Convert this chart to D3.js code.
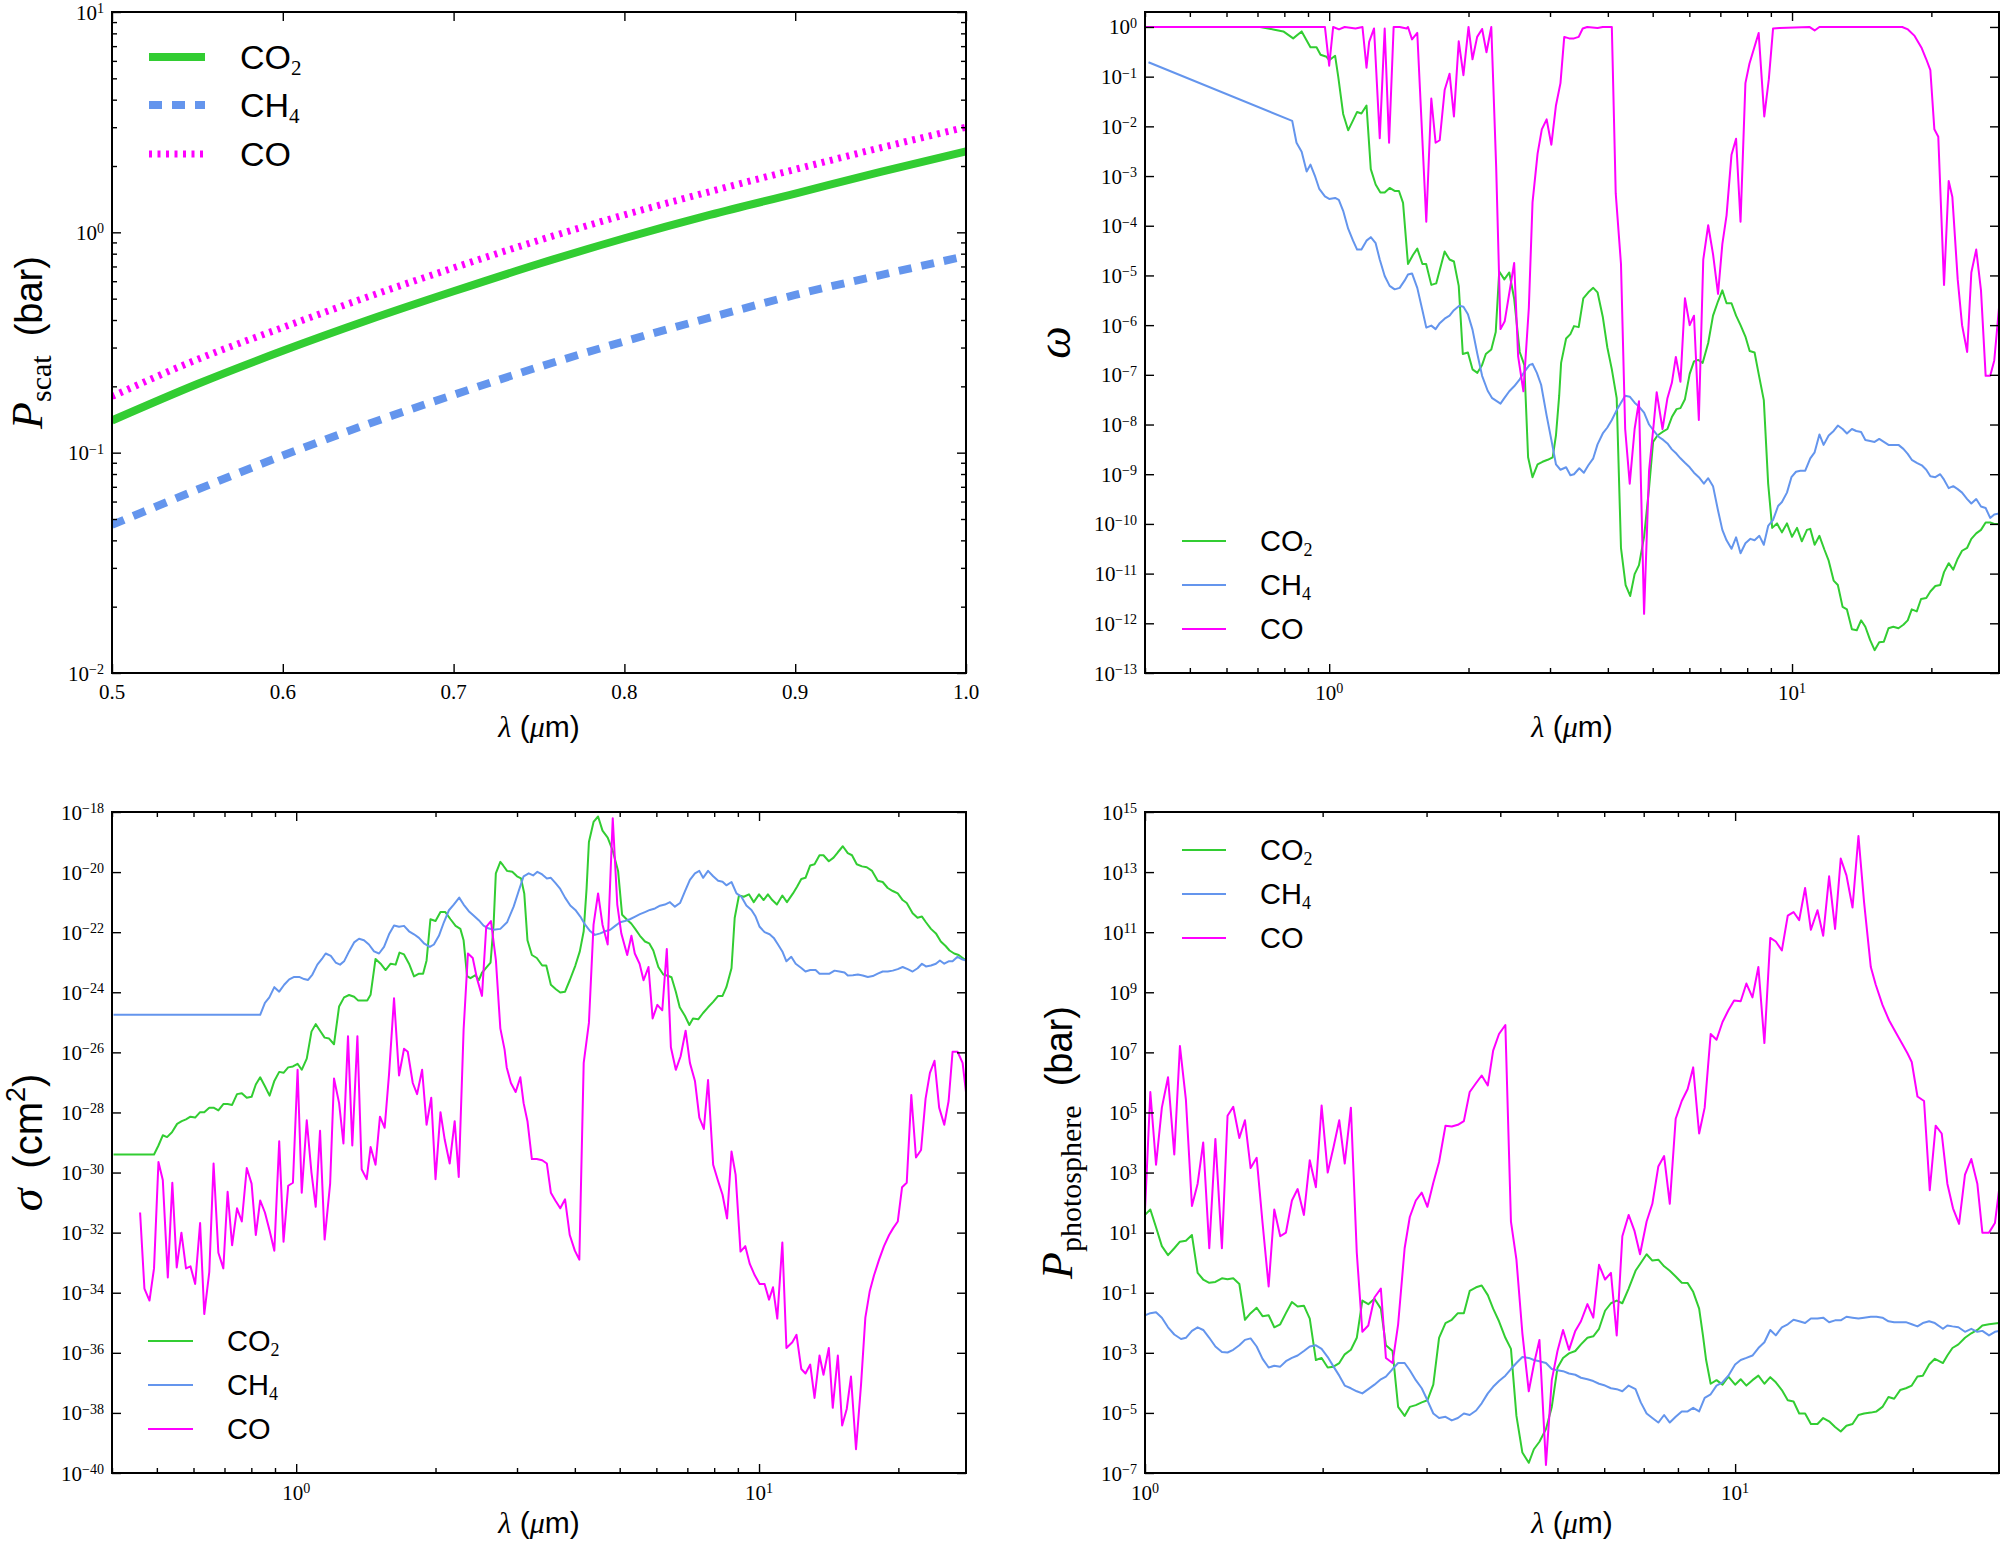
<!DOCTYPE html>
<html>
<head>
<meta charset="utf-8">
<script src="https://cdn.jsdelivr.net/npm/d3@7"></script>
<style>
  body { margin: 0; background: #fff; }
</style>
</head>
<body>
<div id="chart"></div>
<script>
// ---- data ----
// panel 1: P_scat (bar) vs wavelength (µm)
const pscatWl  = [0.5, 0.55, 0.6, 0.65, 0.7, 0.75, 0.8, 0.85, 0.9, 0.95, 1.0];
const pscatCO2 = [0.14, 0.205, 0.29, 0.40, 0.54, 0.72, 0.94, 1.20, 1.50, 1.88, 2.33];
const pscatCH4 = [0.047, 0.068, 0.097, 0.135, 0.183, 0.245, 0.32, 0.41, 0.52, 0.64, 0.78];
const pscatCO  = [0.18, 0.265, 0.37, 0.51, 0.69, 0.92, 1.2, 1.53, 1.93, 2.42, 3.0];

// panel 2: single scattering albedo, pairs of [λ µm, log10 ω]
const omegaCO2 = [[0.40,0],[0.709,0],[0.757,-0.05],[0.796,-0.09],[0.836,-0.23],[0.872,-0.09],[0.911,-0.41],[0.939,-0.41],[0.958,-0.56],[0.987,-0.6],[1.0,-0.67],[1.03,-0.58],[1.046,-1.0],[1.072,-1.75],[1.099,-2.08],[1.126,-1.88],[1.149,-1.71],[1.174,-1.74],[1.204,-1.58],[1.23,-2.86],[1.26,-3.17],[1.29,-3.33],[1.318,-3.33],[1.351,-3.24],[1.385,-3.3],[1.415,-3.3],[1.444,-3.54],[1.48,-4.77],[1.517,-4.59],[1.55,-4.46],[1.59,-4.77],[1.62,-4.77],[1.662,-5.19],[1.703,-5.16],[1.776,-4.52],[1.82,-4.68],[1.86,-4.72],[1.905,-5.21],[1.944,-6.58],[1.994,-6.55],[2.04,-6.89],[2.09,-6.96],[2.14,-6.8],[2.18,-6.58],[2.24,-6.49],[2.29,-6.14],[2.33,-4.92],[2.39,-5.08],[2.45,-4.94],[2.51,-5.47],[2.58,-6.54],[2.64,-6.8],[2.69,-8.66],[2.75,-9.06],[2.82,-8.8],[2.89,-8.75],[2.965,-8.71],[3.04,-8.66],[3.09,-8.22],[3.14,-7.42],[3.17,-6.76],[3.25,-6.27],[3.32,-6.18],[3.38,-6.02],[3.46,-6.04],[3.54,-5.46],[3.63,-5.34],[3.72,-5.25],[3.80,-5.34],[3.90,-5.83],[3.99,-6.45],[4.08,-6.89],[4.18,-7.47],[4.27,-10.48],[4.37,-11.23],[4.47,-11.45],[4.57,-11.01],[4.67,-10.83],[4.79,-10.26],[4.91,-9.28],[5.01,-8.35],[5.12,-8.22],[5.25,-8.15],[5.38,-8.09],[5.50,-7.85],[5.63,-7.69],[5.74,-7.67],[5.87,-7.49],[6.01,-6.98],[6.14,-6.73],[6.27,-6.70],[6.41,-6.76],[6.59,-6.36],[6.75,-5.81],[6.92,-5.52],[7.07,-5.3],[7.22,-5.56],[7.40,-5.56],[7.57,-5.81],[7.74,-6.0],[7.93,-6.23],[8.1,-6.52],[8.3,-6.55],[8.47,-6.98],[8.69,-7.51],[8.88,-9.19],[9.06,-10.08],[9.28,-9.99],[9.51,-10.17],[9.75,-9.99],[10.0,-10.26],[10.25,-10.08],[10.5,-10.35],[10.77,-10.12],[10.95,-10.1],[11.19,-10.42],[11.46,-10.24],[11.75,-10.52],[12.0,-10.74],[12.3,-11.14],[12.56,-11.23],[12.86,-11.67],[13.14,-11.72],[13.47,-12.12],[13.8,-12.14],[14.1,-11.94],[14.4,-12.07],[14.75,-12.34],[15.08,-12.54],[15.43,-12.38],[15.79,-12.37],[16.16,-12.1],[16.55,-12.07],[16.98,-12.1],[17.4,-12.03],[17.78,-11.94],[18.14,-11.72],[18.6,-11.76],[19.0,-11.51],[19.5,-11.49],[19.9,-11.36],[20.4,-11.25],[20.9,-11.23],[21.3,-10.97],[21.8,-10.79],[22.3,-10.92],[22.8,-10.7],[23.3,-10.54],[23.9,-10.48],[24.4,-10.3],[25.0,-10.19],[25.6,-10.12],[26.2,-9.97],[26.8,-9.97],[27.35,-10.0],[28,-10.0]];
const omegaCH4 = [[0.407,-0.71],[0.832,-1.89],[0.85,-2.33],[0.872,-2.51],[0.894,-2.91],[0.911,-2.77],[0.931,-2.99],[0.952,-3.26],[0.979,-3.41],[1.0,-3.46],[1.03,-3.44],[1.049,-3.48],[1.072,-3.70],[1.099,-4.06],[1.126,-4.30],[1.149,-4.48],[1.174,-4.48],[1.204,-4.30],[1.23,-4.23],[1.26,-4.35],[1.286,-4.68],[1.318,-5.01],[1.351,-5.21],[1.385,-5.28],[1.42,-5.25],[1.456,-5.1],[1.48,-4.98],[1.51,-4.96],[1.55,-5.25],[1.59,-5.70],[1.621,-6.05],[1.662,-6.01],[1.698,-6.08],[1.733,-5.96],[1.776,-5.87],[1.82,-5.81],[1.86,-5.70],[1.91,-5.61],[1.95,-5.63],[1.994,-5.78],[2.04,-6.09],[2.09,-6.58],[2.14,-7.02],[2.2,-7.32],[2.25,-7.47],[2.345,-7.58],[2.39,-7.47],[2.45,-7.33],[2.51,-7.23],[2.58,-7.09],[2.64,-6.94],[2.71,-6.8],[2.75,-6.78],[2.81,-6.96],[2.87,-7.2],[2.95,-7.82],[3.02,-8.31],[3.09,-8.8],[3.16,-8.91],[3.25,-8.86],[3.32,-9.02],[3.38,-9.0],[3.47,-8.88],[3.55,-8.97],[3.63,-8.82],[3.72,-8.68],[3.80,-8.4],[3.9,-8.18],[3.99,-8.06],[4.08,-7.91],[4.18,-7.71],[4.27,-7.56],[4.36,-7.42],[4.46,-7.44],[4.57,-7.56],[4.67,-7.64],[4.79,-7.76],[4.91,-8.0],[5.03,-8.13],[5.14,-8.24],[5.27,-8.31],[5.38,-8.38],[5.50,-8.5],[5.63,-8.59],[5.74,-8.68],[5.87,-8.77],[6.01,-8.86],[6.14,-8.97],[6.29,-9.06],[6.45,-9.19],[6.59,-9.08],[6.75,-9.24],[6.92,-9.73],[7.07,-10.12],[7.22,-10.33],[7.4,-10.5],[7.57,-10.27],[7.74,-10.59],[7.93,-10.39],[8.13,-10.3],[8.3,-10.33],[8.5,-10.24],[8.69,-10.42],[8.88,-10.04],[9.1,-9.92],[9.33,-9.64],[9.51,-9.56],[9.75,-9.37],[9.97,-9.06],[10.2,-8.95],[10.42,-8.93],[10.68,-8.93],[10.95,-8.68],[11.19,-8.56],[11.46,-8.2],[11.7,-8.41],[12.0,-8.22],[12.3,-8.13],[12.56,-8.02],[12.86,-8.09],[13.14,-8.18],[13.47,-8.09],[13.76,-8.13],[14.1,-8.15],[14.4,-8.31],[14.75,-8.33],[15.08,-8.35],[15.43,-8.29],[15.79,-8.35],[16.16,-8.41],[16.98,-8.41],[17.4,-8.49],[17.78,-8.59],[18.14,-8.71],[18.6,-8.77],[19.07,-8.82],[19.5,-8.91],[19.9,-9.04],[20.4,-9.06],[20.9,-9.0],[21.3,-9.11],[21.8,-9.28],[22.3,-9.24],[22.8,-9.3],[23.3,-9.37],[23.9,-9.5],[24.4,-9.59],[25.0,-9.5],[25.6,-9.65],[26.2,-9.68],[26.8,-9.88],[27.35,-9.81],[28,-9.79]];
const omegaCO = [[0.40,0],[0.979,0],[1.0,-0.78],[1.02,0],[1.05,-0.05],[1.08,0],[1.14,-0.03],[1.18,0],[1.204,-0.82],[1.22,-0.3],[1.25,-0.03],[1.286,-2.24],[1.318,-0.03],[1.347,-2.33],[1.378,0],[1.42,0],[1.47,-0.03],[1.48,0],[1.51,-0.25],[1.55,-0.12],[1.621,-3.92],[1.662,-1.44],[1.698,-2.33],[1.733,-2.28],[1.776,-1.27],[1.82,-0.94],[1.86,-1.8],[1.905,-0.29],[1.95,-0.97],[2.0,0],[2.04,-0.65],[2.088,-0.2],[2.14,-0.04],[2.187,-0.51],[2.24,0],[2.295,-2.82],[2.345,-6.08],[2.395,-5.92],[2.51,-4.75],[2.56,-6.63],[2.628,-7.33],[2.7,-5.65],[2.75,-3.53],[2.82,-2.55],[2.88,-2.06],[2.95,-1.86],[3.02,-2.37],[3.09,-1.58],[3.16,-1.13],[3.22,-0.2],[3.30,-0.23],[3.38,-0.23],[3.46,-0.2],[3.53,-0.03],[3.61,0],[3.80,-0.02],[3.90,0],[4.08,0],[4.16,-3.35],[4.27,-4.77],[4.36,-8.09],[4.46,-9.19],[4.57,-8.09],[4.67,-7.53],[4.79,-11.81],[4.91,-8.93],[5.03,-7.95],[5.10,-7.35],[5.25,-8.09],[5.38,-7.47],[5.50,-7.16],[5.61,-6.64],[5.74,-7.14],[5.87,-5.46],[6.01,-6.0],[6.14,-5.81],[6.29,-7.91],[6.43,-4.68],[6.59,-3.99],[6.75,-4.57],[6.92,-5.37],[7.07,-4.37],[7.22,-3.79],[7.40,-2.57],[7.57,-2.25],[7.74,-3.92],[7.93,-1.13],[8.09,-0.74],[8.47,-0.12],[8.71,-1.8],[8.91,-1.05],[9.10,-0.03],[9.4,-0.02],[10.9,0],[11.19,-0.07],[11.46,0],[17.3,0],[17.8,-0.05],[18.4,-0.18],[19.07,-0.43],[19.5,-0.65],[19.9,-0.87],[20.3,-2.06],[20.7,-2.21],[21.3,-5.19],[21.8,-3.1],[22.2,-3.42],[22.8,-5.08],[23.3,-6.0],[23.9,-6.54],[24.4,-4.94],[25.0,-4.48],[25.6,-5.3],[26.2,-7.02],[26.8,-7.02],[27.35,-6.71],[28,-5.65]];

// panel 3: cross-section, pairs of [λ µm, log10 σ (cm²)]
const sigmaCO2 = [[0.403,-29.40],[0.493,-29.40],[0.504,-29.10],[0.515,-28.76],[0.526,-28.82],[0.539,-28.66],[0.553,-28.38],[0.566,-28.29],[0.578,-28.23],[0.591,-28.14],[0.605,-28.17],[0.620,-27.99],[0.633,-27.99],[0.649,-27.84],[0.663,-27.84],[0.679,-27.93],[0.696,-27.72],[0.711,-27.72],[0.727,-27.75],[0.745,-27.39],[0.763,-27.36],[0.782,-27.51],[0.801,-27.48],[0.818,-27.07],[0.836,-26.83],[0.856,-27.13],[0.876,-27.44],[0.897,-26.95],[0.919,-26.65],[0.939,-26.68],[0.961,-26.5],[0.984,-26.47],[1.007,-26.38],[1.028,-26.58],[1.054,-26.21],[1.079,-25.31],[1.102,-25.06],[1.126,-25.28],[1.152,-25.51],[1.178,-25.54],[1.207,-25.73],[1.238,-24.47],[1.269,-24.17],[1.301,-24.09],[1.334,-24.15],[1.36,-24.27],[1.389,-24.27],[1.424,-24.27],[1.448,-24.08],[1.484,-22.89],[1.522,-23.05],[1.56,-23.26],[1.6,-23.05],[1.64,-23.08],[1.672,-22.68],[1.71,-22.74],[1.753,-23.05],[1.797,-23.47],[1.842,-23.38],[1.88,-23.38],[1.913,-22.94],[1.95,-21.57],[2.0,-21.63],[2.05,-21.33],[2.1,-21.33],[2.155,-21.57],[2.21,-21.79],[2.263,-21.89],[2.3,-22.27],[2.34,-23.46],[2.38,-23.53],[2.44,-23.43],[2.48,-23.6],[2.52,-23.35],[2.58,-23.16],[2.63,-23.01],[2.67,-21.75],[2.70,-20.04],[2.761,-19.66],[2.80,-19.78],[2.855,-19.96],[2.93,-19.99],[3.0,-20.14],[3.06,-20.21],[3.11,-20.71],[3.16,-22.27],[3.23,-22.76],[3.31,-22.86],[3.40,-23.11],[3.47,-23.11],[3.55,-23.75],[3.64,-23.9],[3.72,-24.01],[3.81,-23.98],[3.9,-23.6],[4.01,-23.11],[4.1,-22.64],[4.18,-21.97],[4.24,-20.56],[4.29,-19.0],[4.39,-18.33],[4.49,-18.15],[4.59,-18.62],[4.71,-18.85],[4.83,-19.29],[4.96,-19.96],[5.06,-21.42],[5.20,-21.60],[5.30,-21.72],[5.40,-21.89],[5.53,-22.12],[5.67,-22.31],[5.79,-22.37],[5.91,-22.61],[6.06,-23.16],[6.21,-23.41],[6.37,-23.46],[6.47,-23.5],[6.61,-23.98],[6.74,-24.5],[6.92,-24.79],[7.07,-25.09],[7.20,-24.87],[7.39,-24.9],[7.57,-24.69],[7.76,-24.5],[7.96,-24.32],[8.16,-24.12],[8.34,-24.12],[8.50,-23.83],[8.72,-23.2],[8.86,-21.52],[9.05,-20.78],[9.27,-20.82],[9.51,-20.74],[9.74,-21.0],[10.0,-20.74],[10.23,-20.93],[10.45,-20.74],[10.68,-20.93],[10.93,-21.08],[11.23,-20.78],[11.49,-21.0],[11.84,-20.71],[12.09,-20.48],[12.34,-20.23],[12.6,-20.19],[12.9,-19.78],[13.18,-19.74],[13.51,-19.44],[13.78,-19.44],[14.15,-19.64],[14.49,-19.52],[14.8,-19.34],[15.17,-19.14],[15.55,-19.37],[15.88,-19.44],[16.26,-19.74],[16.69,-19.81],[17.09,-19.84],[17.55,-19.96],[18.05,-20.29],[18.5,-20.33],[18.97,-20.53],[19.45,-20.63],[19.94,-20.71],[20.43,-20.93],[20.85,-21.03],[21.47,-21.37],[22.0,-21.52],[22.49,-21.48],[22.94,-21.67],[23.52,-21.89],[24.11,-22.04],[24.7,-22.31],[25.3,-22.46],[25.8,-22.61],[26.4,-22.71],[27.0,-22.76],[28,-22.94]];
const sigmaCH4 = [[0.403,-24.75],[0.836,-24.75],[0.856,-24.35],[0.875,-24.17],[0.897,-23.83],[0.919,-23.98],[0.942,-23.75],[0.966,-23.57],[0.99,-23.49],[1.015,-23.49],[1.04,-23.56],[1.061,-23.59],[1.084,-23.41],[1.111,-23.08],[1.14,-22.86],[1.158,-22.71],[1.188,-22.79],[1.217,-23.01],[1.244,-23.08],[1.269,-22.97],[1.301,-22.64],[1.334,-22.34],[1.367,-22.22],[1.401,-22.27],[1.436,-22.41],[1.473,-22.64],[1.51,-22.71],[1.548,-22.49],[1.587,-22.07],[1.627,-21.78],[1.668,-21.82],[1.71,-21.79],[1.753,-21.97],[1.797,-22.07],[1.842,-22.19],[1.888,-22.37],[1.944,-22.49],[1.984,-22.41],[2.034,-22.12],[2.085,-21.67],[2.138,-21.27],[2.19,-21.08],[2.25,-20.85],[2.3,-21.08],[2.36,-21.3],[2.42,-21.45],[2.48,-21.6],[2.54,-21.78],[2.6,-21.87],[2.67,-21.92],[2.761,-21.89],[2.855,-21.67],[2.95,-21.15],[3.025,-20.63],[3.10,-20.14],[3.18,-20.04],[3.25,-20.11],[3.32,-19.99],[3.40,-20.08],[3.48,-20.21],[3.55,-20.19],[3.63,-20.36],[3.72,-20.56],[3.81,-20.85],[3.91,-21.11],[4.01,-21.26],[4.11,-21.48],[4.21,-21.75],[4.32,-21.97],[4.42,-22.09],[4.54,-22.04],[4.65,-21.97],[4.77,-21.92],[4.89,-21.79],[5.01,-21.67],[5.13,-21.63],[5.26,-21.57],[5.40,-21.48],[5.53,-21.40],[5.67,-21.33],[5.81,-21.26],[5.96,-21.21],[6.11,-21.12],[6.26,-21.08],[6.42,-21.0],[6.58,-21.15],[6.75,-21.03],[6.92,-20.63],[7.09,-20.26],[7.27,-20.04],[7.43,-19.96],[7.57,-20.19],[7.76,-19.96],[7.96,-20.14],[8.16,-20.29],[8.34,-20.32],[8.50,-20.44],[8.72,-20.33],[8.94,-20.71],[9.16,-20.82],[9.39,-21.11],[9.63,-21.26],[9.83,-21.48],[10.03,-21.82],[10.28,-22.0],[10.54,-22.07],[10.76,-22.19],[10.99,-22.41],[11.23,-22.64],[11.46,-22.97],[11.74,-22.82],[12.0,-23.05],[12.34,-23.19],[12.6,-23.31],[12.9,-23.26],[13.25,-23.26],[13.51,-23.38],[13.85,-23.38],[14.2,-23.38],[14.56,-23.28],[14.92,-23.31],[15.3,-23.34],[15.55,-23.44],[15.95,-23.43],[16.35,-23.41],[16.75,-23.44],[17.18,-23.49],[17.61,-23.46],[18.05,-23.38],[18.5,-23.31],[18.97,-23.31],[19.45,-23.28],[19.94,-23.23],[20.43,-23.16],[20.95,-23.23],[21.47,-23.31],[22.01,-23.2],[22.49,-23.05],[22.94,-23.14],[23.52,-23.11],[24.11,-23.05],[24.59,-22.94],[25.13,-23.05],[25.68,-22.97],[26.19,-22.97],[26.85,-22.82],[27.53,-22.91],[28,-22.94]];
const sigmaCO = [[0.460,-31.33],[0.470,-33.86],[0.482,-34.26],[0.493,-33.19],[0.504,-29.65],[0.515,-30.25],[0.528,-33.49],[0.54,-30.34],[0.552,-33.16],[0.565,-32.0],[0.578,-33.19],[0.591,-33.12],[0.605,-33.71],[0.62,-31.68],[0.633,-34.71],[0.649,-33.31],[0.663,-29.7],[0.679,-32.67],[0.696,-33.19],[0.711,-30.64],[0.727,-32.42],[0.745,-31.19],[0.763,-31.63],[0.782,-29.85],[0.801,-30.37],[0.818,-32.08],[0.836,-30.93],[0.856,-31.33],[0.876,-31.93],[0.897,-32.6],[0.919,-28.96],[0.939,-32.3],[0.961,-30.44],[0.984,-30.34],[1.007,-26.58],[1.028,-30.67],[1.054,-28.26],[1.079,-30.0],[1.102,-31.14],[1.126,-28.61],[1.152,-32.23],[1.184,-30.37],[1.207,-26.87],[1.238,-27.69],[1.265,-29.03],[1.294,-25.46],[1.322,-29.1],[1.356,-25.46],[1.385,-29.89],[1.42,-30.22],[1.448,-29.15],[1.484,-29.74],[1.517,-28.14],[1.553,-28.51],[1.587,-26.73],[1.627,-24.2],[1.668,-26.77],[1.71,-25.88],[1.742,-25.98],[1.786,-27.02],[1.825,-27.39],[1.871,-26.58],[1.913,-28.41],[1.958,-27.51],[2.0,-30.22],[2.05,-27.99],[2.094,-28.91],[2.146,-29.7],[2.2,-28.29],[2.245,-30.15],[2.3,-25.24],[2.35,-22.71],[2.407,-22.86],[2.457,-23.53],[2.52,-24.12],[2.574,-21.82],[2.635,-21.63],[2.70,-22.91],[2.761,-25.2],[2.82,-25.91],[2.85,-26.5],[2.91,-27.02],[2.98,-27.32],[3.05,-26.83],[3.10,-27.69],[3.16,-28.29],[3.23,-29.55],[3.31,-29.55],[3.40,-29.59],[3.48,-29.7],[3.55,-30.67],[3.63,-30.93],[3.72,-31.19],[3.81,-30.89],[3.9,-32.08],[4.0,-32.6],[4.09,-32.9],[4.18,-26.35],[4.29,-25.02],[4.39,-21.75],[4.49,-20.71],[4.59,-21.75],[4.71,-22.41],[4.83,-18.21],[4.94,-21.08],[5.04,-22.04],[5.19,-22.76],[5.30,-22.12],[5.39,-22.71],[5.52,-23.05],[5.63,-23.6],[5.77,-23.16],[5.89,-24.87],[6.03,-24.42],[6.18,-24.6],[6.32,-22.56],[6.45,-25.83],[6.61,-26.58],[6.77,-26.13],[6.94,-25.28],[7.09,-26.35],[7.27,-26.95],[7.43,-28.17],[7.60,-28.55],[7.76,-26.92],[7.96,-29.74],[8.16,-30.29],[8.34,-30.74],[8.53,-31.53],[8.72,-29.3],[8.9,-30.07],[9.12,-32.63],[9.34,-32.45],[9.55,-33.04],[9.79,-33.42],[10.03,-33.71],[10.28,-33.71],[10.51,-34.23],[10.72,-33.82],[10.95,-34.86],[11.23,-32.33],[11.46,-35.84],[11.8,-35.65],[12.05,-35.4],[12.34,-36.54],[12.6,-36.69],[12.9,-36.39],[13.18,-37.5],[13.51,-36.09],[13.78,-36.73],[14.15,-35.84],[14.43,-37.83],[14.8,-36.09],[15.12,-38.42],[15.47,-37.87],[15.8,-36.79],[16.2,-39.21],[16.61,-37.06],[16.97,-34.83],[17.35,-33.94],[17.72,-33.42],[18.17,-32.9],[18.62,-32.45],[19.1,-32.08],[19.49,-31.85],[19.94,-31.63],[20.37,-30.49],[20.85,-30.34],[21.33,-27.42],[21.83,-29.5],[22.39,-29.25],[22.9,-27.54],[23.4,-26.68],[23.94,-26.28],[24.5,-27.84],[25.13,-28.41],[25.68,-27.62],[26.19,-25.98],[26.85,-25.98],[27.53,-26.35],[28,-27.32]];

// panel 4: photosphere pressure, pairs of [λ µm, log10 P (bar)]
const photoCO2 = [[1.0,1.59],[1.021,1.77],[1.044,1.18],[1.068,0.55],[1.094,0.25],[1.121,0.48],[1.146,0.70],[1.173,0.73],[1.201,0.92],[1.228,-0.34],[1.255,-0.56],[1.285,-0.67],[1.316,-0.64],[1.35,-0.52],[1.38,-0.55],[1.411,-0.52],[1.445,-0.71],[1.477,-1.9],[1.51,-1.68],[1.546,-1.5],[1.582,-1.78],[1.62,-1.75],[1.656,-2.15],[1.695,-2.05],[1.733,-1.68],[1.774,-1.31],[1.814,-1.46],[1.859,-1.43],[1.902,-1.86],[1.948,-3.24],[1.992,-3.17],[2.04,-3.49],[2.087,-3.46],[2.134,-3.34],[2.18,-3.05],[2.233,-2.9],[2.285,-2.5],[2.335,-1.26],[2.39,-1.38],[2.448,-1.2],[2.51,-1.53],[2.56,-2.75],[2.627,-2.94],[2.685,-4.8],[2.754,-5.1],[2.81,-4.8],[2.877,-4.74],[2.944,-4.65],[3.01,-4.58],[3.08,-4.06],[3.15,-2.5],[3.23,-2.01],[3.31,-1.9],[3.39,-1.68],[3.47,-1.68],[3.55,-0.94],[3.64,-0.82],[3.72,-0.76],[3.81,-1.08],[3.89,-1.53],[3.98,-1.95],[4.08,-2.5],[4.17,-2.87],[4.26,-5.1],[4.36,-6.32],[4.47,-6.66],[4.56,-6.21],[4.66,-5.96],[4.78,-5.54],[4.89,-4.8],[5.0,-3.5],[5.11,-3.17],[5.23,-3.02],[5.36,-2.94],[5.48,-2.72],[5.62,-2.5],[5.75,-2.45],[5.88,-2.2],[6.02,-1.6],[6.16,-1.35],[6.30,-1.26],[6.44,-1.35],[6.60,-0.86],[6.78,-0.27],[6.92,-0.01],[7.08,0.28],[7.24,0.07],[7.41,0.1],[7.58,-0.12],[7.75,-0.27],[7.93,-0.46],[8.12,-0.67],[8.31,-0.68],[8.49,-0.97],[8.69,-1.53],[8.82,-2.42],[8.93,-3.24],[9.09,-4.03],[9.3,-3.91],[9.52,-4.06],[9.74,-3.79],[10.0,-4.06],[10.22,-3.88],[10.45,-4.09],[10.7,-3.91],[10.95,-3.76],[11.21,-4.03],[11.47,-3.81],[11.72,-3.98],[12.0,-4.24],[12.28,-4.58],[12.56,-4.62],[12.84,-5.02],[13.14,-5.02],[13.44,-5.37],[13.79,-5.37],[14.1,-5.17],[14.43,-5.28],[14.77,-5.47],[15.1,-5.62],[15.44,-5.43],[15.81,-5.37],[16.18,-5.07],[16.54,-5.02],[16.98,-4.99],[17.36,-4.95],[17.77,-4.8],[18.19,-4.47],[18.6,-4.53],[19.04,-4.24],[19.47,-4.18],[19.92,-4.09],[20.37,-3.79],[20.8,-3.76],[21.32,-3.39],[21.8,-3.2],[22.5,-3.34],[22.89,-3.09],[23.35,-2.84],[23.9,-2.72],[24.52,-2.5],[25.13,-2.35],[25.73,-2.24],[26.24,-2.09],[26.93,-2.05],[28,-2.01]];
const photoCH4 = [[1.0,-1.75],[1.021,-1.68],[1.044,-1.65],[1.068,-1.83],[1.094,-2.15],[1.121,-2.39],[1.151,-2.54],[1.173,-2.5],[1.201,-2.27],[1.228,-2.15],[1.255,-2.24],[1.285,-2.5],[1.316,-2.79],[1.35,-2.97],[1.38,-2.99],[1.411,-2.9],[1.445,-2.75],[1.477,-2.57],[1.51,-2.52],[1.546,-2.79],[1.582,-3.2],[1.62,-3.49],[1.656,-3.43],[1.695,-3.46],[1.733,-3.28],[1.774,-3.17],[1.814,-3.09],[1.859,-2.94],[1.902,-2.79],[1.948,-2.75],[1.992,-2.87],[2.04,-3.14],[2.087,-3.46],[2.134,-3.76],[2.18,-4.09],[2.233,-4.18],[2.285,-4.28],[2.335,-4.35],[2.39,-4.21],[2.448,-4.06],[2.51,-3.88],[2.56,-3.79],[2.627,-3.54],[2.685,-3.34],[2.754,-3.34],[2.81,-3.58],[2.877,-3.91],[2.944,-4.18],[3.01,-4.58],[3.08,-5.02],[3.15,-5.17],[3.23,-5.13],[3.31,-5.25],[3.39,-5.17],[3.47,-5.02],[3.55,-5.07],[3.64,-4.92],[3.72,-4.68],[3.81,-4.35],[3.89,-4.13],[3.98,-3.94],[4.08,-3.76],[4.17,-3.54],[4.26,-3.34],[4.36,-3.14],[4.47,-3.17],[4.56,-3.24],[4.66,-3.28],[4.78,-3.34],[4.89,-3.54],[5.0,-3.58],[5.11,-3.61],[5.23,-3.69],[5.36,-3.73],[5.48,-3.83],[5.62,-3.88],[5.75,-3.94],[5.88,-4.03],[6.02,-4.09],[6.16,-4.18],[6.30,-4.21],[6.44,-4.28],[6.60,-4.09],[6.78,-4.21],[6.92,-4.65],[7.08,-5.02],[7.24,-5.17],[7.41,-5.32],[7.58,-5.07],[7.75,-5.32],[7.93,-5.13],[8.12,-4.95],[8.31,-4.95],[8.49,-4.83],[8.69,-4.95],[8.88,-4.5],[9.09,-4.38],[9.3,-4.09],[9.52,-3.98],[9.74,-3.76],[10.0,-3.39],[10.22,-3.24],[10.45,-3.17],[10.7,-3.09],[10.95,-2.84],[11.21,-2.65],[11.47,-2.24],[11.72,-2.42],[12.0,-2.15],[12.28,-2.05],[12.56,-1.9],[12.84,-1.95],[13.14,-2.01],[13.44,-1.86],[13.79,-1.86],[14.1,-1.83],[14.43,-1.98],[14.77,-1.92],[15.1,-1.92],[15.44,-1.8],[15.81,-1.83],[16.18,-1.86],[16.54,-1.83],[16.98,-1.8],[17.36,-1.8],[17.77,-1.83],[18.19,-1.95],[18.6,-1.98],[19.04,-1.98],[19.47,-1.98],[19.92,-2.05],[20.37,-2.12],[20.8,-2.01],[21.32,-1.95],[21.8,-2.01],[22.5,-2.2],[22.89,-2.09],[23.35,-2.12],[23.9,-2.15],[24.52,-2.3],[25.13,-2.2],[25.73,-2.3],[26.24,-2.27],[26.93,-2.42],[27.56,-2.3],[28,-2.27]];
const photoCO = [[1.0,1.74],[1.021,5.68],[1.044,3.26],[1.068,5.16],[1.094,6.17],[1.121,3.6],[1.146,7.21],[1.173,5.43],[1.201,1.89],[1.228,2.63],[1.255,4.0],[1.285,0.48],[1.316,4.12],[1.35,0.48],[1.38,4.89],[1.411,5.19],[1.445,4.15],[1.477,4.74],[1.51,3.15],[1.546,3.49],[1.582,1.32],[1.62,-0.79],[1.656,1.77],[1.695,0.88],[1.733,1.0],[1.774,2.07],[1.814,2.45],[1.859,1.59],[1.902,3.41],[1.948,2.51],[1.992,5.23],[2.04,3.0],[2.087,3.85],[2.134,4.74],[2.18,3.3],[2.233,5.16],[2.285,0.33],[2.335,-2.3],[2.39,-2.09],[2.448,-1.16],[2.51,-0.86],[2.56,-3.17],[2.627,-3.34],[2.685,-2.05],[2.754,0.48],[2.81,1.52],[2.877,2.07],[2.944,2.33],[3.01,1.86],[3.08,2.66],[3.15,3.35],[3.23,4.56],[3.31,4.53],[3.39,4.59],[3.47,4.71],[3.55,5.68],[3.64,5.98],[3.72,6.23],[3.81,5.9],[3.89,7.06],[3.98,7.61],[4.08,7.91],[4.17,1.37],[4.26,0.1],[4.36,-2.35],[4.47,-4.28],[4.56,-3.39],[4.66,-2.57],[4.78,-6.73],[4.89,-3.91],[5.0,-2.94],[5.11,-2.24],[5.23,-2.9],[5.36,-2.27],[5.48,-1.95],[5.62,-1.38],[5.75,-1.83],[5.88,-0.07],[6.02,-0.56],[6.16,-0.34],[6.30,-2.42],[6.44,0.88],[6.60,1.59],[6.75,1.07],[6.90,0.28],[7.08,1.37],[7.24,1.96],[7.41,3.2],[7.58,3.55],[7.75,1.96],[7.93,4.79],[8.12,5.38],[8.31,5.78],[8.49,6.5],[8.69,4.3],[8.88,5.16],[9.09,7.61],[9.3,7.42],[9.52,8.01],[9.74,8.4],[9.96,8.73],[10.22,8.7],[10.45,9.29],[10.7,8.83],[10.95,9.84],[11.21,7.31],[11.47,10.81],[11.72,10.69],[12.0,10.39],[12.28,11.55],[12.56,11.67],[12.84,11.4],[13.14,12.47],[13.44,11.08],[13.79,11.73],[14.1,10.88],[14.43,12.86],[14.77,11.11],[15.1,13.45],[15.44,12.89],[15.81,11.82],[16.18,14.2],[16.54,11.99],[16.98,9.84],[17.31,9.25],[17.77,8.58],[18.24,8.06],[18.72,7.66],[19.21,7.27],[19.59,6.97],[19.92,6.68],[20.37,5.53],[20.9,5.38],[21.37,2.41],[21.87,4.56],[22.39,4.3],[22.89,2.63],[23.4,1.81],[23.96,1.29],[24.52,2.93],[25.13,3.45],[25.73,2.63],[26.24,1.0],[26.93,1.0],[27.56,1.32],[28,2.41]];

// axis ranges and major tick exponents
const wlDomain = [0.4, 28];
const photoWlDomain = [1, 28];
const pscatXTicks = [0.5, 0.6, 0.7, 0.8, 0.9, 1.0];
const pscatYExp = [-2, -1, 0, 1];
const omegaYExp = d3.range(0, -14, -1);
const sigmaYExp = d3.range(-18, -41, -2);
const photoYExp = d3.range(15, -8, -2);
const wlMajorExp = [0, 1];
const species = ["CO2", "CH4", "CO"];

// ---- layout ----
const W = 2001, H = 1541;
const COLORS = { CO2: "#32cd32", CH4: "#6495ed", CO: "#ff00ff" };
const SERIF = "'Liberation Serif', 'DejaVu Serif', serif";
const SANS = "'Liberation Sans', Arial, sans-serif";

const svg = d3.select("#chart").append("svg")
  .attr("width", W)
  .attr("height", H)
  .style("background", "#fff");

const cols = { L: [112, 966], R: [1145, 1999] };
const rows = { T: [12, 673], B: [812, 1473] };

function makePanel(id, col, row, xScale, yDomain) {
  const [x0, x1] = col, [y0, y1] = row;
  const x = xScale.range([x0, x1]);
  const y = d3.scaleLog().domain(yDomain).range([y1, y0]);
  const g = svg.append("g").attr("class", "panel-" + id);
  g.append("clipPath").attr("id", "clip-" + id)
    .append("rect")
    .attr("x", x0).attr("y", y0)
    .attr("width", x1 - x0).attr("height", y1 - y0);
  const plot = g.append("g").attr("clip-path", `url(#clip-${id})`);
  return { g, plot, x, y, x0, x1, y0, y1 };
}

// inward ticks on all four sides
function drawTicks(p, xMajor, xMinor, yMajor, yMinor) {
  const put = (axisFn, scale, vals, len, tr) => {
    p.g.append("g").attr("transform", tr)
      .call(axisFn(scale).tickValues(vals).tickSize(-len).tickFormat(""))
      .call(a => a.select(".domain").remove())
      .call(a => a.selectAll(".tick line").attr("stroke", "#000").attr("stroke-width", 1.4));
  };
  put(d3.axisBottom, p.x, xMajor, 9, `translate(0,${p.y1})`);
  put(d3.axisTop, p.x, xMajor, 9, `translate(0,${p.y0})`);
  put(d3.axisBottom, p.x, xMinor, 5, `translate(0,${p.y1})`);
  put(d3.axisTop, p.x, xMinor, 5, `translate(0,${p.y0})`);
  put(d3.axisLeft, p.y, yMajor, 9, `translate(${p.x0},0)`);
  put(d3.axisRight, p.y, yMajor, 9, `translate(${p.x1},0)`);
  put(d3.axisLeft, p.y, yMinor, 5, `translate(${p.x0},0)`);
  put(d3.axisRight, p.y, yMinor, 5, `translate(${p.x1},0)`);
  p.g.append("rect")
    .attr("x", p.x0).attr("y", p.y0)
    .attr("width", p.x1 - p.x0).attr("height", p.y1 - p.y0)
    .attr("fill", "none").attr("stroke", "#000").attr("stroke-width", 2);
}

function powerLabel(text, e, size) {
  text.append("tspan").text("10");
  text.append("tspan")
    .attr("font-size", size * 0.67)
    .attr("dy", -size * 0.31)
    .text(e < 0 ? "\u2212" + (-e) : String(e));
}

function yPowerLabels(p, exps) {
  exps.forEach(e => {
    const t = p.g.append("text")
      .attr("x", p.x0 - 8).attr("y", p.y(Math.pow(10, e)) + 7.5)
      .attr("text-anchor", "end")
      .attr("font-family", SERIF).attr("font-size", 21);
    powerLabel(t, e, 21);
  });
}

function xPowerLabels(p, exps) {
  exps.forEach(e => {
    const t = p.g.append("text")
      .attr("x", p.x(Math.pow(10, e))).attr("y", p.y1 + 27)
      .attr("text-anchor", "middle")
      .attr("font-family", SERIF).attr("font-size", 21);
    powerLabel(t, e, 21);
  });
}

function xLabel(p, yBase) {
  const t = p.g.append("text")
    .attr("x", (p.x0 + p.x1) / 2).attr("y", yBase)
    .attr("text-anchor", "middle").attr("font-size", 30);
  t.append("tspan").attr("font-family", SERIF).attr("font-style", "italic").text("λ");
  t.append("tspan").attr("font-family", SANS).text(" (");
  t.append("tspan").attr("font-family", SERIF).attr("font-style", "italic").text("μ");
  t.append("tspan").attr("font-family", SANS).text("m)");
}

function yLabel(p, xBase, build) {
  const t = p.g.append("text")
    .attr("transform", `translate(${xBase},${(p.y0 + p.y1) / 2}) rotate(-90)`)
    .attr("text-anchor", "middle");
  build(t);
}

function pressureLabel(t, sub) {
  t.append("tspan").attr("font-family", SERIF).attr("font-style", "italic").attr("font-size", 44).text("P");
  t.append("tspan").attr("font-family", SERIF).attr("font-size", 30).attr("dy", 9).text(sub);
  t.append("tspan").attr("font-family", SANS).attr("font-size", 38).attr("dy", -9).text("\u2002(bar)");
}

function speciesLabel(text, s, size) {
  if (s === "CO") { text.append("tspan").text("CO"); return; }
  text.append("tspan").text(s.slice(0, -1));
  text.append("tspan")
    .attr("font-family", SERIF).attr("font-size", size * 0.62)
    .attr("dy", size * 0.16)
    .text(s.slice(-1));
}

function legend(p, lineX, textX, rowY, size, styleOf) {
  species.forEach((s, i) => {
    const st = styleOf(s);
    p.g.append("line")
      .attr("x1", lineX[0]).attr("x2", lineX[1])
      .attr("y1", rowY[i]).attr("y2", rowY[i])
      .attr("stroke", COLORS[s]).attr("stroke-width", st.width)
      .attr("stroke-dasharray", st.dash || null);
    const t = p.g.append("text")
      .attr("x", textX).attr("y", rowY[i] + size * 0.36)
      .attr("font-family", SANS).attr("font-size", size);
    speciesLabel(t, s, size);
  });
}

function logLine(p, data, color) {
  p.plot.append("path")
    .datum(data)
    .attr("fill", "none")
    .attr("stroke", color)
    .attr("stroke-width", 2)
    .attr("stroke-linejoin", "round")
    .attr("d", d3.line().x(d => p.x(d[0])).y(d => p.y(Math.pow(10, d[1]))));
}

const isPow10 = v => Math.abs(Math.log10(v) - Math.round(Math.log10(v))) < 1e-9;
const thin = { width: 2 };

// ---- panel 1: P_scat ----
const p1 = makePanel("pscat", cols.L, rows.T, d3.scaleLinear().domain([0.5, 1.0]), [0.01, 10]);
const pscatStyle = {
  CO2: { width: 8 },
  CH4: { width: 8, dash: "13,10" },
  CO: { width: 7, dash: "3,5.5" }
};
const pscatData = { CO2: pscatCO2, CH4: pscatCH4, CO: pscatCO };
species.forEach(s => {
  p1.plot.append("path")
    .datum(pscatWl.map((w, i) => [w, pscatData[s][i]]))
    .attr("fill", "none")
    .attr("stroke", COLORS[s])
    .attr("stroke-width", pscatStyle[s].width)
    .attr("stroke-dasharray", pscatStyle[s].dash || null)
    .attr("d", d3.line().curve(d3.curveMonotoneX).x(d => p1.x(d[0])).y(d => p1.y(d[1])));
});
drawTicks(p1, pscatXTicks, [], pscatYExp.map(e => Math.pow(10, e)), p1.y.ticks().filter(v => !isPow10(v)));
yPowerLabels(p1, pscatYExp);
pscatXTicks.forEach(v => {
  p1.g.append("text")
    .attr("x", p1.x(v)).attr("y", p1.y1 + 26)
    .attr("text-anchor", "middle")
    .attr("font-family", SERIF).attr("font-size", 21)
    .text(d3.format(".1f")(v));
});
legend(p1, [149, 205], 240, [57, 105, 154], 34, s => pscatStyle[s]);
xLabel(p1, 737);
yLabel(p1, 42, t => pressureLabel(t, "scat"));

// ---- panel 2: ω ----
const p2 = makePanel("omega", cols.R, rows.T, d3.scaleLog().domain(wlDomain), [1e-13, 2]);
logLine(p2, omegaCO2, COLORS.CO2);
logLine(p2, omegaCH4, COLORS.CH4);
logLine(p2, omegaCO, COLORS.CO);
drawTicks(p2, wlMajorExp.map(e => Math.pow(10, e)), p2.x.ticks().filter(v => !isPow10(v)),
  omegaYExp.map(e => Math.pow(10, e)), []);
yPowerLabels(p2, omegaYExp);
xPowerLabels(p2, wlMajorExp);
legend(p2, [1182, 1226], 1260, [541, 585, 629], 29, () => thin);
xLabel(p2, 737);
yLabel(p2, 1070, t => t.append("tspan").attr("font-family", SERIF).attr("font-style", "italic").attr("font-size", 46).text("ω"));

// ---- panel 3: σ ----
const p3 = makePanel("sigma", cols.L, rows.B, d3.scaleLog().domain(wlDomain), [1e-40, 1e-18]);
logLine(p3, sigmaCO2, COLORS.CO2);
logLine(p3, sigmaCH4, COLORS.CH4);
logLine(p3, sigmaCO, COLORS.CO);
drawTicks(p3, wlMajorExp.map(e => Math.pow(10, e)), p3.x.ticks().filter(v => !isPow10(v)),
  sigmaYExp.map(e => Math.pow(10, e)), []);
yPowerLabels(p3, sigmaYExp);
xPowerLabels(p3, wlMajorExp);
legend(p3, [148, 193], 227, [1341, 1385, 1429], 29, () => thin);
xLabel(p3, 1533);
yLabel(p3, 42, t => {
  t.append("tspan").attr("font-family", SERIF).attr("font-style", "italic").attr("font-size", 46).text("σ");
  t.append("tspan").attr("font-family", SANS).attr("font-size", 40).text("\u2002(cm");
  t.append("tspan").attr("font-family", SANS).attr("font-size", 27).attr("dy", -17).text("2");
  t.append("tspan").attr("font-family", SANS).attr("font-size", 40).attr("dy", 17).text(")");
});

// ---- panel 4: P_photosphere ----
const p4 = makePanel("photo", cols.R, rows.B, d3.scaleLog().domain(photoWlDomain), [1e-7, 1e15]);
logLine(p4, photoCO2, COLORS.CO2);
logLine(p4, photoCH4, COLORS.CH4);
logLine(p4, photoCO, COLORS.CO);
drawTicks(p4, wlMajorExp.map(e => Math.pow(10, e)), p4.x.ticks().filter(v => !isPow10(v)),
  photoYExp.map(e => Math.pow(10, e)), []);
yPowerLabels(p4, photoYExp);
xPowerLabels(p4, wlMajorExp);
legend(p4, [1182, 1226], 1260, [850, 894, 938], 29, () => thin);
xLabel(p4, 1533);
yLabel(p4, 1072, t => pressureLabel(t, "photosphere"));
</script>
</body>
</html>
